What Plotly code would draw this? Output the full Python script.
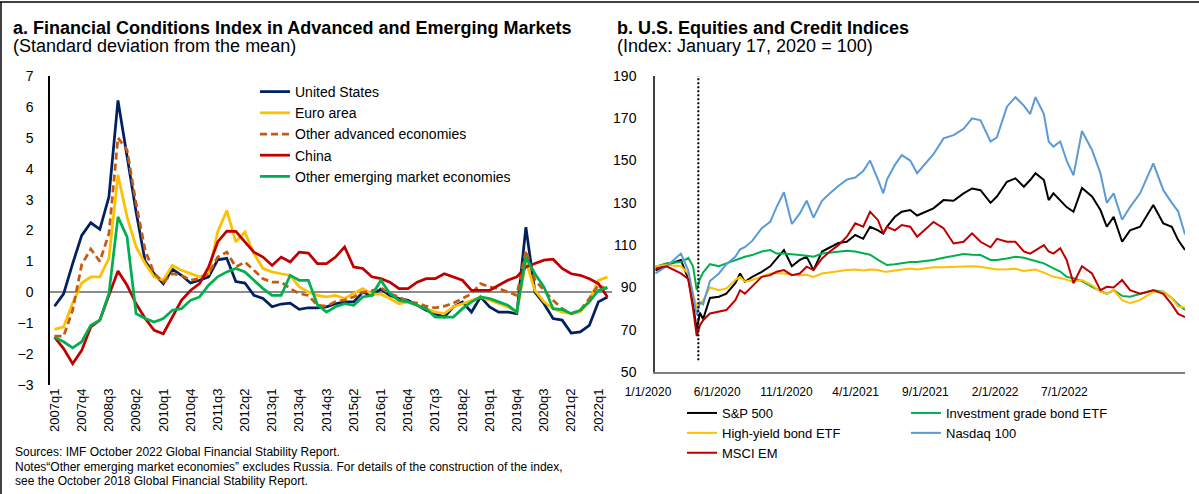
import plotly.graph_objects as go

W, H = 1199, 494


def fx(p):
    return p / W


def fy(p):
    return 1 - p / H


# ---------------- Panel a data ----------------
QUARTERS = [f"{y}q{q}" for y in range(2007, 2023) for q in range(1, 5)][:62]

US = [-0.45, -0.05, 0.93, 1.84, 2.25, 2.04, 3.09, 6.21, 4.4, 2.6, 1.0, 0.6, 0.28, 0.75, 0.55, 0.3,
      0.39, 0.5, 1.05, 1.1, 0.35, 0.3, -0.1, -0.2, -0.47, -0.38, -0.35, -0.55, -0.5, -0.5,
      -0.47, -0.37, -0.31, -0.31, 0.0, -0.1, 0.1, -0.1, -0.2, -0.26, -0.42, -0.58, -0.69, -0.8,
      -0.47, -0.31, -0.64, -0.15, -0.47, -0.64, -0.64, -0.69, 2.11, 0.0, -0.37, -0.85, -0.9,
      -1.32, -1.28, -1.07, -0.31, -0.15]
EURO = [-1.2, -1.12, -0.35, 0.3, 0.5, 0.5, 1.1, 3.8, 2.44, 1.47, 0.93, 0.5, 0.39, 0.87, 0.71, 0.6,
        0.5, 0.6, 1.95, 2.65, 1.63, 1.95, 1.25, 0.77, 0.66, 0.6, 0.55, 0.17, 0.01, -0.1,
        -0.15, -0.1, -0.2, -0.04, 0.12, -0.06, -0.06, -0.2, -0.37, -0.31, -0.42, -0.53, -0.64,
        -0.69, -0.47, -0.37, -0.26, -0.15, -0.26, -0.37, -0.47, -0.64, 1.0, 0.06, -0.31, -0.53,
        -0.64, -0.69, -0.64, -0.26, 0.39, 0.49]
OTHER_ADV = [-1.42, -1.42, -0.58, 0.9, 1.4, 1.0, 1.9, 5.0, 4.6, 2.87, 1.36, 0.6, 0.33, 0.6, 0.55,
             0.39, 0.44, 0.6, 1.14, 1.3, 0.82, 0.98, 0.71, 0.44, 0.33, 0.33, 0.12, -0.04, -0.1,
             -0.42, -0.45, -0.3, -0.25, -0.15, 0.0, 0.05, 0.15, -0.05, -0.15, -0.3, -0.35, -0.45,
             -0.5, -0.45, -0.35, -0.2, -0.05, 0.28, 0.17, 0.12, 0.0, -0.1, 1.36, 0.4, 0.06, -0.26,
             -0.53, -0.69, -0.58, -0.2, 0.23, 0.1]
CHINA = [-1.45, -1.82, -2.31, -1.88, -1.12, -0.9, -0.1, 0.69, 0.23, -0.37, -0.85, -1.23, -1.34,
         -0.8, -0.26, 0.06, 0.28, 0.82, 1.63, 1.98, 1.97, 1.63, 1.3, 1.14, 0.87, 1.14, 0.98, 1.3,
         1.27, 0.93, 0.93, 1.14, 1.47, 0.82, 0.77, 0.5, 0.44, 0.33, 0.12, 0.12, 0.33, 0.44, 0.44,
         0.6, 0.5, 0.39, 0.06, 0.06, 0.06, 0.23, 0.39, 0.5, 0.82, 0.93, 1.04, 1.07, 0.77, 0.6,
         0.55, 0.44, 0.28, -0.15]
OTHER_EM = [-1.45, -1.6, -1.8, -1.6, -1.07, -0.9, -0.04, 2.44, 1.79, -0.69, -0.85, -0.96, -0.85,
            -0.58, -0.53, -0.26, -0.15, 0.23, 0.5, 0.66, 0.77, 0.66, 0.39, 0.12, -0.1, -0.1, 0.55,
            0.39, 0.39, -0.4, -0.64, -0.47, -0.37, -0.42, -0.15, -0.1, 0.39, -0.04, -0.26, -0.31,
            -0.42, -0.53, -0.8, -0.8, -0.8, -0.53, -0.31, -0.15, -0.2, -0.31, -0.42, -0.64, 1.14,
            0.6, 0.17, -0.53, -0.56, -0.69, -0.58, -0.31, 0.06, 0.16]

# ---------------- Panel b data ----------------
DATES = ["2020-01-02", "2020-01-23", "2020-02-19", "2020-03-04", "2020-03-13", "2020-03-20",
         "2020-03-26", "2020-04-01", "2020-04-14", "2020-05-01", "2020-05-15", "2020-06-01",
         "2020-06-10", "2020-06-19", "2020-07-03", "2020-07-21", "2020-08-06", "2020-08-18",
         "2020-09-01", "2020-09-16", "2020-10-01", "2020-10-14", "2020-10-27", "2020-11-12",
         "2020-11-27", "2020-12-13", "2020-12-29", "2021-01-14", "2021-01-29", "2021-02-11",
         "2021-02-26", "2021-03-08", "2021-03-15", "2021-03-30", "2021-04-12", "2021-04-28",
         "2021-05-11", "2021-06-11", "2021-06-30", "2021-07-19", "2021-08-07", "2021-08-23",
         "2021-09-08", "2021-09-27", "2021-10-09", "2021-10-28", "2021-11-13", "2021-11-29",
         "2021-12-11", "2021-12-21", "2022-01-06", "2022-01-15", "2022-01-24", "2022-02-06",
         "2022-02-18", "2022-03-03", "2022-03-19", "2022-04-07", "2022-04-23", "2022-05-05",
         "2022-05-18", "2022-06-03", "2022-06-18", "2022-07-07", "2022-08-01", "2022-08-20",
         "2022-09-05", "2022-09-17", "2022-09-30"]

SP500 = [98, 100.6, 103, 94, 82, 70, 78, 75, 85, 85.6, 87, 92, 96.6, 92.7, 95, 97.4, 100, 103.7,
         107.7, 100, 103, 104.5, 98.2, 107, 109, 111, 111.6, 114.8, 113, 118.7, 117, 115.5, 118.7,
         123.4, 125.8, 126.6, 124,
         127.4, 131.3, 131, 134.5, 136.8, 136, 130, 133, 140, 141.6, 137.6, 140.8, 144, 140.8,
         131.3, 134.5, 131.3, 128, 125.8, 137, 133, 126.6, 118.7, 123.4, 111.6, 117, 118.7, 129,
         120.3, 118.7, 112.4, 107.7]
IG_BOND = [99.8, 101.4, 102, 104, 100, 88.7, 94, 97, 101, 100, 101.4, 103, 104, 104.5, 105.3, 107,
           107.7, 106, 106, 105.5, 105.3, 105, 104.5, 106, 106.5, 107, 107.3, 107, 106, 105.5, 103,
           101.5, 100.6, 101, 101.5, 102, 102,
           103, 104, 105, 105.8, 105.5, 105.3, 103, 103, 103.7, 104.5, 104, 103, 102.5, 101.4, 100,
           99, 97.5, 95, 94.3, 93, 90.3, 88.5, 87, 88.7, 86, 85.6, 87, 88.7, 88, 85, 82, 79.3]
HY_BOND = [100, 100.6, 100, 96.6, 87, 80.8, 82, 84, 90, 88.7, 89.5, 93.5, 95, 92.7, 93.5, 95, 96.6,
           96.8, 96.6, 96, 95.8, 96, 95, 96.6, 97.2, 97.6, 98.2, 98.5, 98, 98.5, 98.2, 97.5, 97.4,
           98, 98.5, 99, 98.5,
           99.5, 99.6, 99.8, 100, 100, 99.8, 99.2, 98.5, 98.6, 98.8, 97.8, 98.2, 98.5, 97, 95.8, 95,
           94.5, 93.5, 92.7, 93.5, 91, 88, 87, 88.7, 84, 82.6, 84, 88, 88, 85, 81, 80.5]
NASDAQ = [96.6, 100, 106, 98, 86, 77, 83, 82, 93, 96.6, 101, 104.5, 108, 109, 112, 118, 121, 128,
          135, 120, 125, 131, 123, 131, 134.5, 138, 141, 142, 145, 150, 141, 134.5, 141, 148, 152.6,
          150, 144,
          153, 160.5, 162, 165, 170, 169, 159, 161, 175.5, 180, 176, 172, 180, 172, 159, 156.6, 159,
          150, 143, 164, 155, 144, 130, 134.5, 122, 128, 134.5, 148.7, 136, 130, 126, 115]
MSCI_EM = [99, 100, 96.6, 94, 80, 67, 72, 74.5, 77.7, 78.5, 79.3, 84, 88.7, 87, 90.3, 95, 95.8, 97.4,
           98.2, 95.8, 96.6, 99.8, 98.2, 103.7, 107, 110, 114, 120.3, 118.7, 125.8, 121.8, 115.6,
           118.7, 117, 119.5, 118.7, 114,
           121, 118, 110.8, 111.6, 115.6, 111.6, 109, 113, 111.6, 111.6, 107, 106, 107.7, 110, 107,
           106, 108.5, 103, 92, 100, 96.6, 88.7, 90.3, 90, 93.5, 88.7, 87, 88.7, 87, 82, 77.5, 76]

TICK_LABELS_B = ["1/1/2020", "6/1/2020", "11/1/2020", "4/1/2021", "9/1/2021", "2/1/2022", "7/1/2022"]
TICK_DATES_B = ["2020-01-01", "2020-05-11", "2020-09-19", "2021-01-28", "2021-06-09", "2021-10-19",
                "2022-02-27"]
EVENT_DATE = "2020-03-23"

FONT = "Liberation Sans, Arial, sans-serif"

fig = go.Figure()

left_series = [
    ("United States", US, "#002060", "solid"),
    ("Euro area", EURO, "#FFC000", "solid"),
    ("Other advanced economies", OTHER_ADV, "#C55A11", "7px,4px"),
    ("China", CHINA, "#C00000", "solid"),
    ("Other emerging market economies", OTHER_EM, "#00B050", "solid"),
]
for name, vals, col, dash in left_series:
    fig.add_trace(go.Scatter(x=QUARTERS, y=vals, name=name, mode="lines",
                             line=dict(color=col, width=2.75, dash=dash),
                             xaxis="x", yaxis="y", legend="legend"))

right_series = [
    ("S&P 500", SP500, "#000000", "legend2"),
    ("Investment grade bond ETF", IG_BOND, "#00B050", "legend3"),
    ("High-yield bond ETF", HY_BOND, "#FFC000", "legend2"),
    ("Nasdaq 100", NASDAQ, "#5B9BD5", "legend3"),
    ("MSCI EM", MSCI_EM, "#C00000", "legend2"),
]
for name, vals, col, leg in right_series:
    fig.add_trace(go.Scatter(x=DATES, y=vals, name=name, mode="lines",
                             line=dict(color=col, width=2),
                             xaxis="x2", yaxis="y2", legend=leg))

fig.add_shape(type="line", xref="x2", yref="y2", x0=EVENT_DATE, x1=EVENT_DATE, y0=55.5, y1=191.5,
              line=dict(color="black", width=2, dash="2px,2px"))

# Frame lines (top, left)
fig.add_shape(type="line", xref="paper", yref="paper", x0=0, x1=1, y0=fy(2), y1=fy(2),
              line=dict(color="black", width=1.5))
fig.add_shape(type="line", xref="paper", yref="paper", x0=fx(1), x1=fx(1), y0=0, y1=fy(2),
              line=dict(color="black", width=1.5))

annos = [
    dict(text="<b>a. Financial Conditions Index in Advanced and Emerging Markets</b>", x=fx(11), y=fy(28), size=18),
    dict(text="(Standard deviation from the mean)", x=fx(11), y=fy(46), size=18),
    dict(text="<b>b. U.S. Equities and Credit Indices</b>", x=fx(615), y=fy(28), size=18),
    dict(text="(Index: January 17, 2020 = 100)", x=fx(615), y=fy(46), size=18),
    dict(text="Sources: IMF October 2022 Global Financial Stability Report.", x=fx(13), y=fy(452), size=12),
    dict(text="Notes\u201cOther emerging market economies\u201d excludes Russia. For details of the construction of the index,",
         x=fx(13), y=fy(467), size=12),
    dict(text="see the October 2018 Global Financial Stability Report.", x=fx(13), y=fy(481), size=12),
]
for a in annos:
    fig.add_annotation(text=a["text"], x=a["x"], y=a["y"], xref="paper", yref="paper",
                       xanchor="left", yanchor="middle", showarrow=False,
                       font=dict(family=FONT, size=a["size"], color="black"))

fig.update_layout(
    width=W, height=H,
    margin=dict(l=0, r=0, t=0, b=0),
    paper_bgcolor="white", plot_bgcolor="white",
    font=dict(family=FONT, color="black"),
    showlegend=True,
    xaxis=dict(domain=[fx(50), fx(612)], type="category", range=[-0.5, 61.5],
               tickmode="array", tickvals=QUARTERS[::3], tickangle=-90,
               tickfont=dict(size=13), showline=False, showgrid=False, ticks="",
               zeroline=False, anchor="y", automargin=False),
    yaxis=dict(domain=[fy(385), fy(76)], range=[-3, 7], dtick=1, tickfont=dict(size=14),
               showline=True, linecolor="black", linewidth=1.5, showgrid=False, ticks="",
               zeroline=True, zerolinecolor="#8c8c8c", zerolinewidth=1.5,
               ticklabelstandoff=12, anchor="x", automargin=False),
    xaxis2=dict(domain=[fx(655), fx(1185)], type="date", range=["2020-01-01", "2022-09-30"],
                tickmode="array", tickvals=TICK_DATES_B, ticktext=TICK_LABELS_B,
                tickfont=dict(size=12), ticklabelshift=-7, ticklabelstandoff=8,
                showline=True, linecolor="#7f7f7f",
                linewidth=2, showgrid=False, ticks="", zeroline=False, anchor="y2",
                automargin=False),
    yaxis2=dict(domain=[fy(372), fy(76)], range=[50, 190], tick0=50, dtick=20,
                tickfont=dict(size=14),
                showline=True, linecolor="#404040", linewidth=1.5, showgrid=False, ticks="",
                zeroline=False, ticklabelstandoff=14, anchor="x2", automargin=False),
    legend=dict(x=fx(255), y=fy(76), xanchor="left", yanchor="top", font=dict(size=14),
                bgcolor="rgba(0,0,0,0)", tracegroupgap=0),
    legend2=dict(x=fx(682), y=fy(398), xanchor="left", yanchor="top", font=dict(size=13),
                 bgcolor="rgba(0,0,0,0)", tracegroupgap=0),
    legend3=dict(x=fx(906), y=fy(398), xanchor="left", yanchor="top", font=dict(size=13),
                 bgcolor="rgba(0,0,0,0)", tracegroupgap=0),
)

fig.write_html("out.html", config={"displayModeBar": False},
               post_script="document.body.style.margin='0px';")
